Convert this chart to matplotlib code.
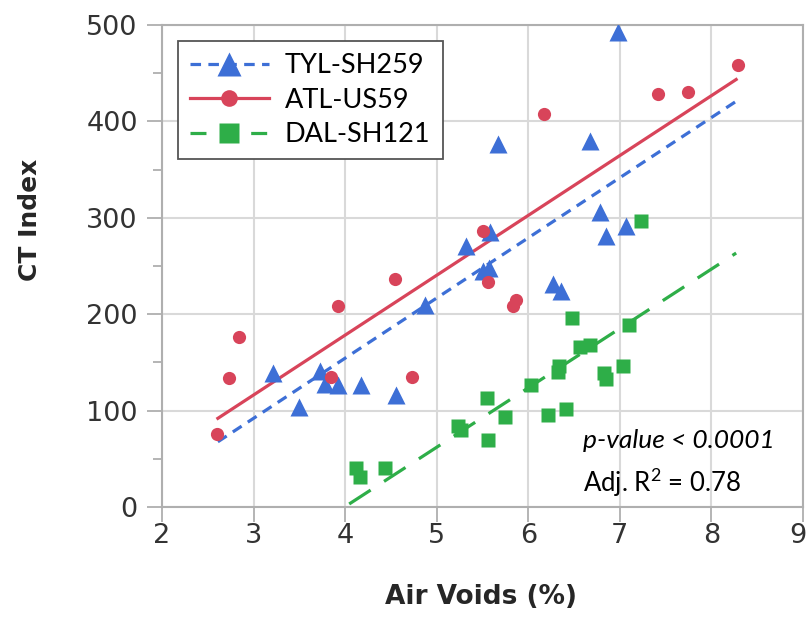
import matplotlib
matplotlib.use("Agg")
import matplotlib.pyplot as plt
import matplotlib.transforms as mtransforms
import numpy as np

# TYL-SH259 (triangles)
tyl_x = [3.21, 3.50, 3.72, 3.78, 3.92, 4.17, 4.56, 4.87, 5.32, 5.50, 5.57, 5.58,
         5.67, 6.27, 6.36, 6.67, 6.78, 6.85, 6.98, 7.07]
tyl_y = [139, 104, 141, 128, 127, 127, 116, 210, 271, 245, 248, 285,
         377, 231, 224, 380, 306, 281, 493, 292]

# ATL-US59 (circles)
atl_x = [2.60, 2.73, 2.84, 3.85, 3.92, 4.54, 4.73, 5.50, 5.56, 5.83, 5.87,
         6.17, 7.42, 7.74, 8.29]
atl_y = [76, 134, 176, 135, 209, 236, 135, 286, 233, 208, 215,
         408, 428, 431, 458]

# DAL-SH121 (squares)
dal_x = [4.12, 4.16, 4.44, 5.23, 5.27, 5.55, 5.56, 5.75, 6.03, 6.21, 6.41,
         6.32, 6.34, 6.48, 6.56, 6.67, 6.83, 6.85, 7.03, 7.10, 7.23]
dal_y = [40, 31, 40, 84, 80, 113, 70, 93, 127, 95, 102,
         140, 146, 196, 166, 168, 139, 133, 146, 189, 297]

# fitted lines: (slope, intercept)
tyl_fit = (62.4, -95.2)
atl_fit = (62.1, -70.1)
dal_fit = (61.6, -246.0)
fit_range = [2.61, 8.27]

labels = ["TYL-SH259", "ATL-US59", "DAL-SH121"]
blue, red, green = "#3D6FD6", "#D8445A", "#2EAE48"
blue_ls = (0, (3.3, 2.3))
green_ls = (3, (8, 5))

plt.rcParams["mathtext.fontset"] = "custom"
plt.rcParams["mathtext.rm"] = "Lato"

fig = plt.figure(figsize=(8.09, 6.19), dpi=100)
ax = fig.add_axes([162 / 809, 1 - 507 / 619, (803 - 162) / 809, (507 - 25) / 619])

xf = np.array(fit_range)
ax.plot(xf, tyl_fit[0] * xf + tyl_fit[1], color=blue, lw=2.3, ls=blue_ls, zorder=3)
ax.plot(xf, atl_fit[0] * xf + atl_fit[1], color=red, lw=2.3, zorder=3)
ax.plot(xf, dal_fit[0] * xf + dal_fit[1], color=green, lw=2.3, ls=green_ls, zorder=3)

ax.plot(tyl_x, tyl_y, ls="none", marker="^", ms=13, color=blue, mec="none", zorder=4)
ax.plot(atl_x, atl_y, ls="none", marker="o", ms=9.5, color=red, mec="none", zorder=4)
ax.plot(dal_x, dal_y, ls="none", marker="s", ms=10.5, color=green, mec="none", zorder=4)

ax.set_xlim(2, 9)
ax.set_ylim(0, 500)
ax.set_xticks(range(2, 10))
ax.set_yticks(range(0, 501, 100))
ax.set_yticks(range(50, 500, 100), minor=True)
ax.grid(True, color="#D9D9D9", lw=1.5, zorder=0)
ax.set_axisbelow(True)
for s in ax.spines.values():
    s.set_color("#AFAFAF")
    s.set_linewidth(1.5)
ax.tick_params(axis="both", which="major", direction="out", length=10.5, width=1.3,
               color="#AFAFAF", labelsize=19.5, labelcolor="#333333")
ax.tick_params(axis="y", which="minor", direction="out", length=6.5, width=1.3, color="#AFAFAF")
ax.tick_params(axis="y", which="major", pad=7)
ax.tick_params(axis="x", which="major", pad=1)

# nudge the last x label so it stays inside the picture
last = ax.get_xticklabels()[-1]
last.set_transform(last.get_transform() + mtransforms.ScaledTranslation(-5 / 100, 0, fig.dpi_scale_trans))

fig.text(30 / 809, 1 - 220 / 619, "CT Index", rotation=90, ha="center", va="center",
         fontsize=18, fontweight="bold", color="#262626")
fig.text(481 / 809, 1 - 597 / 619, "Air Voids (%)", ha="center", va="center",
         fontsize=19, fontweight="bold", color="#262626")

# legend handles
h1, = ax.plot([], [], color=blue, lw=2.3, ls=blue_ls, marker="^", ms=17, mec="none")
h2, = ax.plot([], [], color=red, lw=2.3, marker="o", ms=12, mec="none")
h3, = ax.plot([], [], color=green, lw=2.3, ls=(0, (5, 4.5)), marker="s", ms=14, mec="none")
leg = ax.legend([h1, h2, h3], labels, loc="upper left",
                bbox_to_anchor=(178 / 809, 1 - 41 / 619), bbox_transform=fig.transFigure,
                borderaxespad=0, fancybox=False, framealpha=1, edgecolor="#555555",
                prop={"family": "Lato", "size": 19.5}, handlelength=2.9,
                labelspacing=0.35, borderpad=0.45, handletextpad=0.6)
leg.get_frame().set_linewidth(1.3)

fig.text(583 / 809, 1 - 440 / 619, "p-value < 0.0001", family="Lato", style="italic",
         fontsize=19, va="center", ha="left", color="black")
fig.text(583 / 809, 1 - 482 / 619, r"Adj. R$^{\mathrm{2}}$ = 0.78", family="Lato",
         fontsize=18.5, va="center", ha="left", color="black")

fig.savefig("out.png", dpi=100)
